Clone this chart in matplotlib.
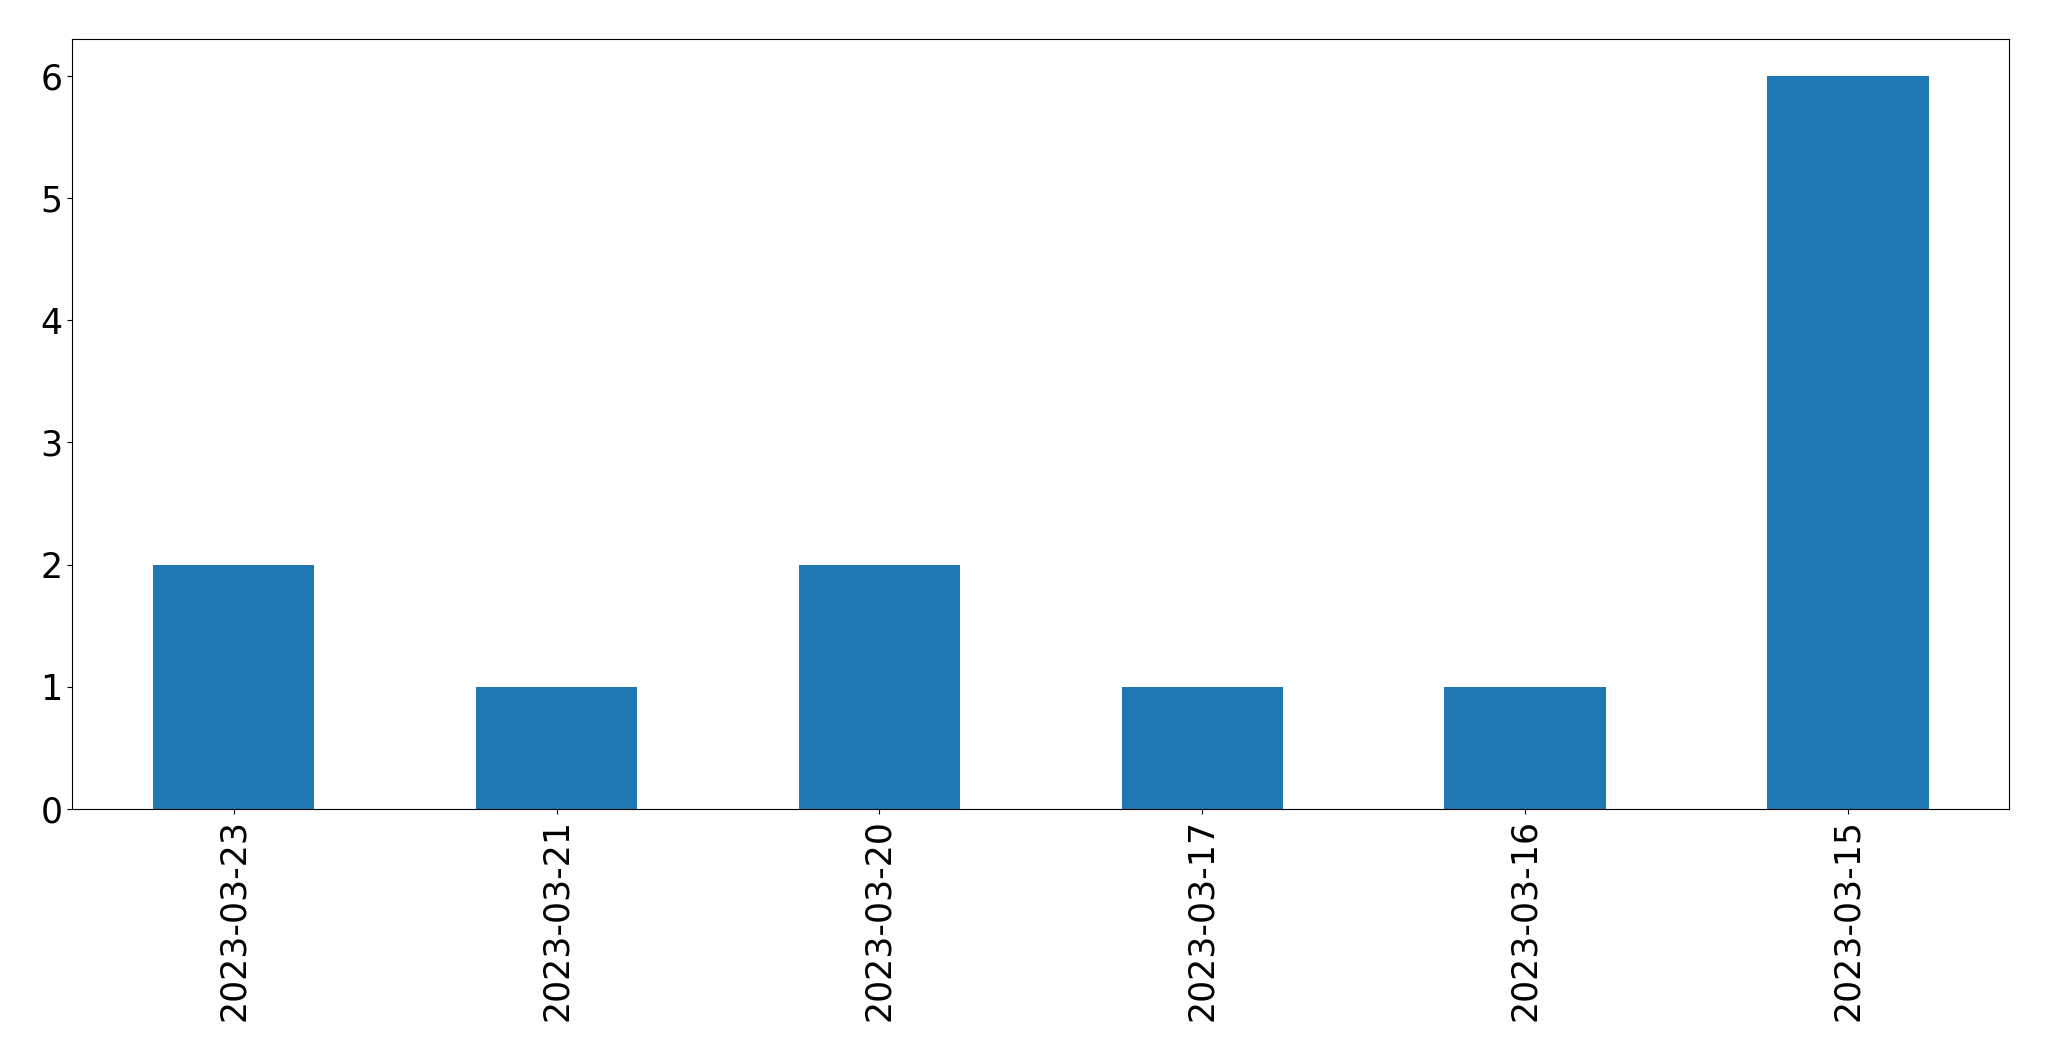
import matplotlib
matplotlib.use("Agg")
import matplotlib.pyplot as plt

dates = ["2023-03-23", "2023-03-21", "2023-03-20", "2023-03-17", "2023-03-16", "2023-03-15"]
counts = [2, 1, 2, 1, 1, 6]

fig = plt.figure(figsize=(20.49, 10.61), dpi=100)
ax = fig.add_axes([72.3/2049, 1 - 809/1061, (2009.3-72.3)/2049, (809-39.3)/1061])
x = list(range(len(dates)))
ax.bar(x, counts, width=0.5, color="#1f77b4")
ax.set_xlim(-0.5, len(dates) - 0.5)
ax.set_ylim(0, 6.3)
ax.set_xticks(x)
ax.set_xticklabels(dates, rotation=90, fontsize=25)
ax.tick_params(axis="y", labelsize=25)
fig.savefig("out.png", dpi=100)
